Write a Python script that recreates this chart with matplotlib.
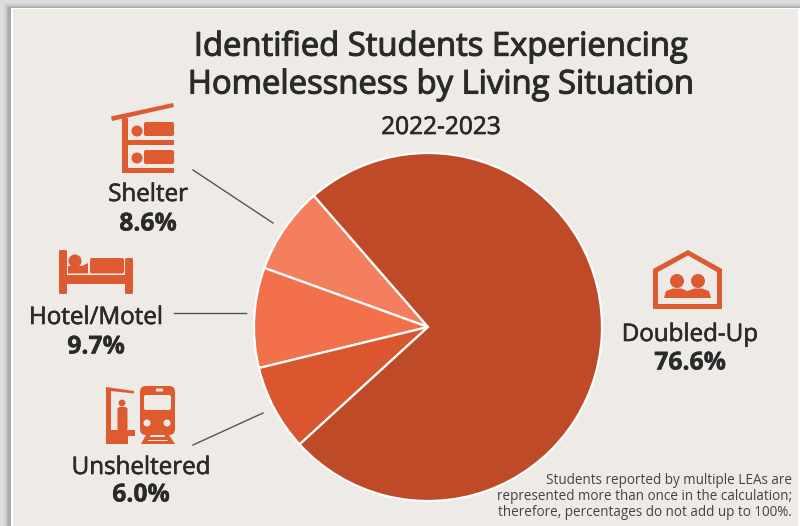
import matplotlib
matplotlib.use("Agg")
import matplotlib.pyplot as plt
import matplotlib.patheffects as pe
from matplotlib.patches import Rectangle, Circle, Polygon, FancyBboxPatch

W, H = 800, 526
plt.rcParams['font.family'] = ['Open Sans', 'DejaVu Sans']

# Printed percentages (they add to more than 100%)
labels = ["Shelter", "Hotel/Motel", "Unsheltered", "Doubled-Up"]
printed = ["8.6%", "9.7%", "6.0%", "76.6%"]
shares = [8.1, 9.3, 8.0, 74.6]
colors = ["#F47F5E", "#F2704A", "#D9562F", "#BF4A28"]
start_angle = 131

ICON = "#DE5A30"
BG = "#EEEAE6"
TXT = "#2A2A2A"

fig = plt.figure(figsize=(W / 100, H / 100), dpi=100, facecolor="#DDDDDD")
ov = fig.add_axes([0, 0, 1, 1])
ov.set_xlim(0, W); ov.set_ylim(H, 0); ov.axis("off")

def rect(x0, y0, x1, y1, c=ICON, z=3):
    ov.add_patch(Rectangle((x0, y0), x1 - x0, y1 - y0, fc=c, ec="none", zorder=z))
def poly(pts, c=ICON, z=3):
    ov.add_patch(Polygon(pts, closed=True, fc=c, ec="none", zorder=z))
def circ(x, y, r, c=ICON, z=3):
    ov.add_patch(Circle((x, y), r, fc=c, ec="none", zorder=z))
def rrect(x0, y0, x1, y1, r, c=ICON, z=3):
    ov.add_patch(FancyBboxPatch((x0 + r, y0 + r), x1 - x0 - 2 * r, y1 - y0 - 2 * r,
                                boxstyle=f"round,pad={r}", fc=c, ec="none", zorder=z))

# card with soft drop shadow
for inset, shade in ((3, "#D2D2D2"), (5, "#C6C6C6"), (6, "#B8B8B8"), (7, "#AAAAAA")):
    rect(inset + 1, inset, 800, 526, shade, 0.2)
rect(11, 8, 800, 526, "white", 0.5)
rect(13, 9, 798, 526, BG, 1)

# pie
R = 174
cx, cy = 428, 327
pie_ax = fig.add_axes([(cx - R) / W, 1 - (cy + R) / H, 2 * R / W, 2 * R / H])
pie_ax.pie(shares, colors=colors, startangle=start_angle, radius=1,
           wedgeprops=dict(edgecolor="white", linewidth=1.6))
pie_ax.set_xlim(-1, 1); pie_ax.set_ylim(-1, 1)
pie_ax.patch.set_alpha(0)

# text
def t(x, y, s, size, weight="normal", ha="center", color=TXT, thick=0):
    o = ov.text(x, y, s, fontsize=size, fontweight=weight, ha=ha, va="center", color=color, zorder=5)
    if thick:
        o.set_path_effects([pe.withStroke(linewidth=thick, foreground=color)])

t(441, 47, "Identified Students Experiencing", 23.6, thick=0.8)
t(441, 85, "Homelessness by Living Situation", 23.6, thick=0.8)
t(441, 128, "2022-2023", 17.6, thick=0.5)
pos = {"Doubled-Up": (690, 335, 363), "Unsheltered": (141, 468, 495),
       "Hotel/Motel": (96, 318, 347), "Shelter": (148, 195, 224)}
for name, val in zip(labels, printed):
    x, y1, y2 = pos[name]
    t(x, y1, name, 17.4, thick=0.45)
    t(x, y2, val, 17.8, "bold", thick=0.3)
for y, s in zip((481, 497, 513), ("Students reported by multiple LEAs are",
                                  "represented more than once in the calculation;",
                                  "therefore, percentages do not add up to 100%.")):
    t(792, y, s, 9.75, ha="right", color="#444444")

# leader lines
for (a, b) in [((193, 170), (273, 223)), ((174, 313), (246, 313)), ((193, 445), (263, 413))]:
    ov.plot([a[0], b[0]], [a[1], b[1]], color="#555555", lw=1.0, zorder=4)

# shelter icon
poly([(111, 116.5), (173, 103), (174, 107), (112, 121)])
rect(122, 118, 128, 173)
rect(122, 140, 174, 145)
rect(122, 168, 174, 173)
circ(137, 131, 5.5); circ(137, 158, 5.5)
rrect(144, 122, 174, 136, 2); rrect(144, 150, 174, 164, 2)

# bed icon
rrect(59, 250, 67, 294, 1.5); rrect(125, 258, 133, 294, 1.5)
rect(59, 275, 133, 284)
circ(75, 261, 6.5)
rrect(90, 258, 124, 273.5, 2)
poly([(68, 273.5), (68, 266), (82, 266), (88, 263), (88, 273.5)])

# train + platform icon
poly([(106, 387), (134, 391), (134, 393.5), (111, 391), (111, 444), (106, 444)])
circ(122, 403, 3.4)
rrect(117.5, 407, 127.5, 431, 2.5)
rect(106, 430, 128, 444)
rect(106, 430, 135, 436)
rrect(140, 386, 175, 435, 6)
rrect(144, 395, 171, 410, 2, BG, 4)
rrect(156, 388.5, 163, 391.5, 0.8, BG, 4)
circ(147, 423, 3.5, BG, 4); circ(167, 423, 3.5, BG, 4)
poly([(146, 435), (151, 435), (146, 444), (141, 444)])
poly([(164, 435), (169, 435), (175, 444), (170, 444)])
rect(147, 437, 168, 439.5); rect(144, 441, 172, 444)

# house icon
poly([(653, 269), (688, 250), (722, 269), (722, 309), (653, 309)])
poly([(658, 272), (688, 255.5), (717, 272), (717, 304), (658, 304)], BG, 4)
circ(677, 281, 7, ICON, 5); circ(698, 281, 7, ICON, 5)
poly([(664, 298), (666, 291), (673, 288.5), (681, 288.5), (687.5, 291), (694, 288.5),
      (702, 288.5), (709, 291), (711, 298)], ICON, 5)

fig.savefig("out.png", dpi=100, facecolor=fig.get_facecolor())
